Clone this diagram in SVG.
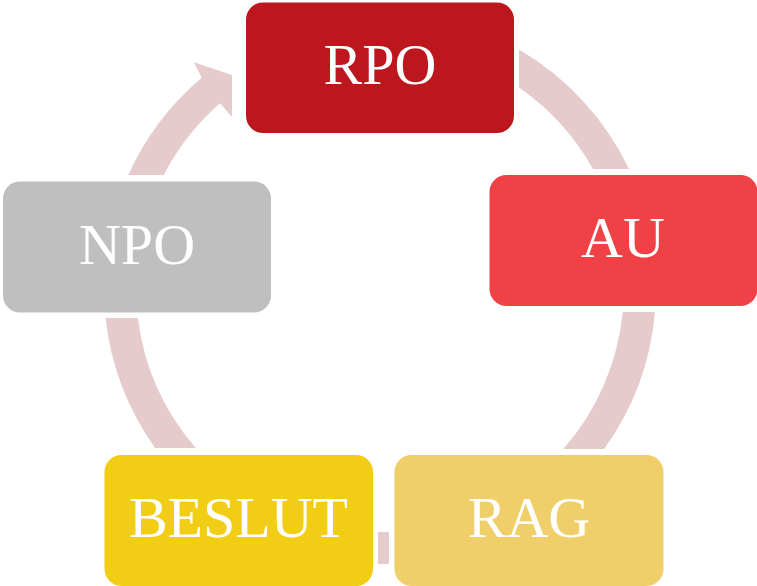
<svg xmlns="http://www.w3.org/2000/svg" width="757" height="586" viewBox="0 0 757 586">
<style>
.arc{fill:#E5CBCB;stroke:none}
.box{stroke:none}
.lbl{font-family:"Liberation Serif","Times New Roman",serif;font-size:58px;fill:#FFFFFF;text-anchor:middle}
</style>
<rect width="757" height="586" fill="#FFFFFF"/>
<g id="connectors">
<path class="arc" d="M 519 49.6 A 276 276 0 0 1 629 169 L 593 169 A 244 244 0 0 0 519 87.5 Z"/>
<path class="arc" d="M 655 312 A 276 276 0 0 1 604.2 449 L 563.3 449 A 244 244 0 0 0 622.8 312 Z"/>
<path class="arc" d="M 389 563.9 A 276 276 0 0 1 378 564 L 378 532 A 244 244 0 0 0 389 531.8 Z"/>
<path class="arc" d="M 155.1 448 A 276 276 0 0 1 105.6 318 L 137.9 318 A 244 244 0 0 0 195.8 448 Z"/>
<path class="arc" d="M 128.2 175 A 276 276 0 0 1 201.7 77.7 L 194 62.3 L 232 75 L 232 117 L 220 103.3 A 244 244 0 0 0 163.7 175 Z"/>
</g>
<g id="node-rpo">
<rect class="box" x="246" y="2.5" width="268" height="130.5" rx="17" fill="#BC171D"/>
<text class="lbl" x="380" y="84">RPO</text>
</g>
<g id="node-au">
<rect class="box" x="489.5" y="175" width="268" height="131" rx="17" fill="#EF4146"/>
<text class="lbl" x="623" y="257">AU</text>
</g>
<g id="node-rag">
<rect class="box" x="394.5" y="455" width="269" height="131" rx="17" fill="#F0CF6A"/>
<text class="lbl" x="529" y="537">RAG</text>
</g>
<g id="node-beslut">
<rect class="box" x="104.5" y="455" width="268.5" height="131" rx="17" fill="#F2CD15"/>
<text class="lbl" x="238.5" y="537">BESLUT</text>
</g>
<g id="node-npo">
<rect class="box" x="3" y="181.5" width="268" height="131" rx="17" fill="#BFBFBF"/>
<text class="lbl" x="137" y="264">NPO</text>
</g>
</svg>
